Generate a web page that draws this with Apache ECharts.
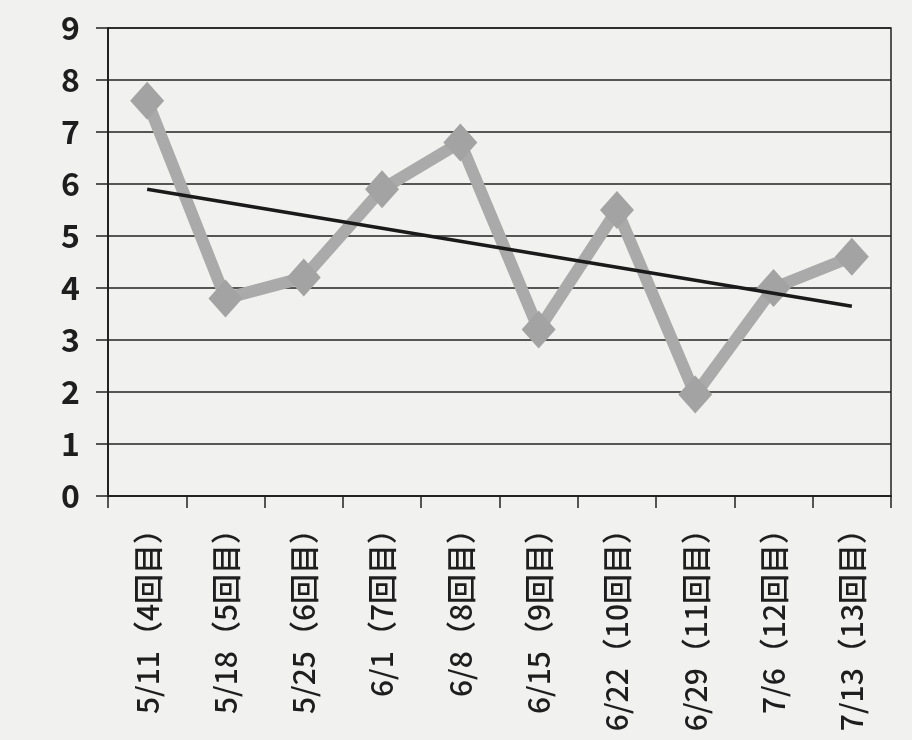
<!DOCTYPE html>
<html>
<head>
<meta charset="utf-8">
<script src="https://cdn.jsdelivr.net/npm/echarts@6/dist/echarts.min.js"></script>
<style>
html,body{margin:0;padding:0;background:#f1f1ef;}
#c{width:912px;height:740px;}
</style>
</head>
<body>
<div id="c"></div>
<script>
var categories = ['5/11（4回目）','5/18（5回目）','5/25（6回目）','6/1（7回目）','6/8（8回目）','6/15（9回目）','6/22（10回目）','6/29（11回目）','7/6（12回目）','7/13（13回目）'];
var values = [7.6, 3.8, 4.2, 5.9, 6.8, 3.2, 5.5, 1.95, 4.0, 4.6];
var trend = [5.9, null, null, null, null, null, null, null, null, 3.65];
var yTicks = [0,1,2,3,4,5,6,7,8,9];

var chart = echarts.init(document.getElementById('c'));
chart.setOption({
  backgroundColor: '#f1f1ef',
  animation: false,
  grid: {left: 108, right: 21, top: 28, bottom: 244, show: true, borderColor: '#222', borderWidth: 1.5, backgroundColor: 'transparent'},
  xAxis: {
    type: 'category',
    data: categories,
    boundaryGap: true,
    axisLine: {lineStyle: {color: '#222', width: 2}},
    axisTick: {show: true, length: 12, lineStyle: {color: '#222', width: 1.5}},
    axisLabel: {rotate: 90, margin: 18, fontSize: 30, fontWeight: 500, color: '#1e1e1e', fontFamily: '"Noto Sans CJK JP", sans-serif', interval: 0}
  },
  yAxis: {
    type: 'value',
    min: 0, max: 9, interval: 1,
    axisLine: {show: true, lineStyle: {color: '#222', width: 2}},
    axisTick: {show: true, length: 12, lineStyle: {color: '#222', width: 1.5}},
    axisLabel: {margin: 28, fontSize: 32, fontWeight: 'bold', color: '#1e1e1e', fontFamily: '"Noto Sans CJK JP", sans-serif',
      formatter: function(v){ return yTicks.indexOf(v) >= 0 ? String(v) : ''; }},
    splitLine: {show: true, lineStyle: {color: '#222', width: 1.5}}
  },
  series: [
    {
      type: 'line',
      data: values,
      symbol: 'diamond',
      symbolSize: [34, 38],
      lineStyle: {color: '#aaaaaa', width: 12},
      itemStyle: {color: '#a3a3a3'},
      z: 2
    },
    {
      type: 'line',
      data: trend,
      connectNulls: true,
      symbol: 'none',
      lineStyle: {color: '#1a1a1a', width: 3.5},
      z: 3
    }
  ]
});
</script>
</body>
</html>
